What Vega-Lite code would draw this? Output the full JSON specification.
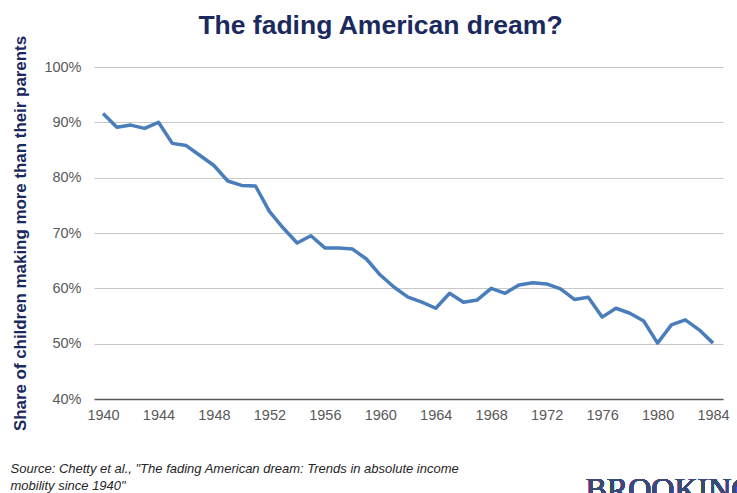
{
  "$schema": "https://vega.github.io/schema/vega-lite/v6.json",
  "width": 629,
  "height": 332,
  "autosize": {"type": "none"},
  "padding": {"left": 94, "top": 67, "right": 14, "bottom": 94},
  "background": "white",
  "config": {"view": {"stroke": null}, "font": "Liberation Sans"},
  "title": {
    "text": "The fading American dream?",
    "frame": "group",
    "fontSize": 26.5,
    "fontWeight": "bold",
    "color": "#1b2a5e",
    "font": "Liberation Sans",
    "anchor": "middle",
    "baseline": "alphabetic",
    "dx": -28,
    "offset": -25
  },
  "data": {"values": [
    {"year": 1940, "share": 0.916},
    {"year": 1941, "share": 0.891},
    {"year": 1942, "share": 0.895},
    {"year": 1943, "share": 0.889},
    {"year": 1944, "share": 0.900},
    {"year": 1945, "share": 0.862},
    {"year": 1946, "share": 0.858},
    {"year": 1947, "share": 0.840},
    {"year": 1948, "share": 0.822},
    {"year": 1949, "share": 0.794},
    {"year": 1950, "share": 0.786},
    {"year": 1951, "share": 0.785},
    {"year": 1952, "share": 0.739},
    {"year": 1953, "share": 0.709},
    {"year": 1954, "share": 0.682},
    {"year": 1955, "share": 0.695},
    {"year": 1956, "share": 0.673},
    {"year": 1957, "share": 0.673},
    {"year": 1958, "share": 0.671},
    {"year": 1959, "share": 0.653},
    {"year": 1960, "share": 0.624},
    {"year": 1961, "share": 0.602},
    {"year": 1962, "share": 0.584},
    {"year": 1963, "share": 0.575},
    {"year": 1964, "share": 0.564},
    {"year": 1965, "share": 0.591},
    {"year": 1966, "share": 0.575},
    {"year": 1967, "share": 0.579},
    {"year": 1968, "share": 0.600},
    {"year": 1969, "share": 0.591},
    {"year": 1970, "share": 0.606},
    {"year": 1971, "share": 0.610},
    {"year": 1972, "share": 0.608},
    {"year": 1973, "share": 0.599},
    {"year": 1974, "share": 0.580},
    {"year": 1975, "share": 0.584},
    {"year": 1976, "share": 0.548},
    {"year": 1977, "share": 0.564},
    {"year": 1978, "share": 0.555},
    {"year": 1979, "share": 0.541},
    {"year": 1980, "share": 0.501},
    {"year": 1981, "share": 0.534},
    {"year": 1982, "share": 0.543},
    {"year": 1983, "share": 0.525},
    {"year": 1984, "share": 0.501}
  ]},
  "layer": [
    {
      "mark": {"type": "line", "color": "#4a7ebb", "strokeWidth": 3.5, "strokeJoin": "round"},
      "encoding": {
        "x": {
          "field": "year", "type": "quantitative",
          "scale": {"domain": [1939.35, 1984.72], "nice": false, "zero": false},
          "axis": {
            "values": [1940, 1944, 1948, 1952, 1956, 1960, 1964, 1968, 1972, 1976, 1980, 1984],
            "format": "d",
            "grid": false,
            "ticks": false,
            "domainColor": "#595959",
            "domainWidth": 1.5,
            "labelColor": "#595959",
            "labelFontSize": 14.5,
            "labelPadding": 9,
            "labelFlush": false,
            "title": ["Source: Chetty et al., \"The fading American dream: Trends in absolute income", "mobility since 1940\""],
            "titleFont": "Liberation Sans",
            "titleFontStyle": "italic",
            "titleFontWeight": "normal",
            "titleFontSize": 13,
            "titleColor": "#262626",
            "titleAnchor": "start",
            "titleAlign": "left",
            "titleBaseline": "alphabetic",
            "titleLineHeight": 17,
            "titleX": -84,
            "titleY": 73
          }
        },
        "y": {
          "field": "share", "type": "quantitative",
          "scale": {"domain": [0.4, 1.0], "nice": false, "zero": false},
          "axis": {
            "values": [0.4, 0.5, 0.6, 0.7, 0.8, 0.9, 1.0],
            "format": ".0%",
            "domain": false,
            "ticks": false,
            "gridColor": "#c8c8c8",
            "gridWidth": 1.2,
            "labelColor": "#595959",
            "labelFontSize": 14.5,
            "labelPadding": 13,
            "title": "Share of children making more than their parents",
            "titleFontSize": 16.9,
            "titleFontWeight": "bold",
            "titleColor": "#1b2a5e",
            "titlePadding": 14
          }
        }
      }
    },
    {
      "mark": {"type": "text", "text": "BROOKINGS", "font": "Liberation Serif", "fontSize": 32, "color": "#3a4a78", "align": "left", "baseline": "top", "clip": false},
      "encoding": {
        "x": {"datum": 1974.8},
        "y": {"datum": 0.263}
      }
    }
  ]
}
